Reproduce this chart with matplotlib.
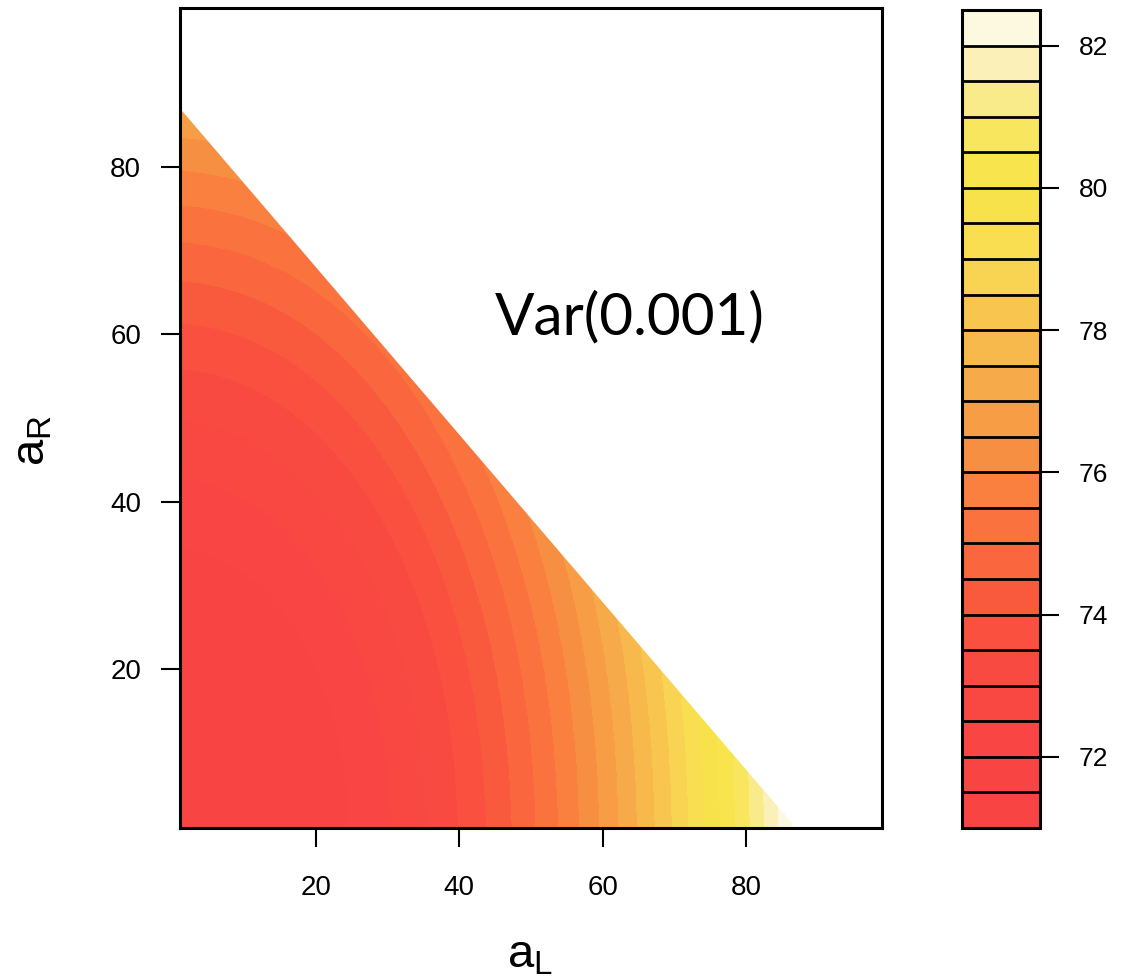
import matplotlib.pyplot as plt
import numpy as np
from matplotlib.colors import ListedColormap, BoundaryNorm
from matplotlib.patches import Polygon

plt.rcParams['font.family'] = ['Liberation Sans', 'DejaVu Sans']

a_L = [0, 10, 20, 30, 40, 50, 60, 70, 80, 90, 100]
a_R = [0, 10, 20, 30, 40, 50, 60, 70, 80, 90, 100]

# estimated surface values, one row per a_R value
var_surface = [
    [71.00, 71.15, 71.61, 72.38, 73.45, 74.83, 76.51, 78.50, 80.79, 83.39, 86.30],
    [71.08, 71.23, 71.69, 72.46, 73.53, 74.91, 76.59, 78.58, 80.87, 83.47, 86.38],
    [71.31, 71.46, 71.92, 72.69, 73.76, 75.14, 76.82, 78.81, 81.10, 83.70, 86.61],
    [71.70, 71.85, 72.31, 73.08, 74.15, 75.53, 77.21, 79.20, 81.49, 84.09, 87.00],
    [72.25, 72.40, 72.86, 73.63, 74.70, 76.08, 77.76, 79.75, 82.04, 84.64, 87.55],
    [72.95, 73.10, 73.56, 74.33, 75.40, 76.78, 78.46, 80.45, 82.74, 85.34, 88.25],
    [73.81, 73.96, 74.42, 75.19, 76.26, 77.64, 79.32, 81.31, 83.60, 86.20, 89.11],
    [74.82, 74.97, 75.43, 76.20, 77.27, 78.65, 80.33, 82.32, 84.61, 87.21, 90.12],
    [75.99, 76.14, 76.60, 77.37, 78.44, 79.82, 81.50, 83.49, 85.78, 88.38, 91.29],
    [77.32, 77.47, 77.93, 78.70, 79.77, 81.15, 82.83, 84.82, 87.11, 89.71, 92.62],
    [78.80, 78.95, 79.41, 80.18, 81.25, 82.63, 84.31, 86.30, 88.59, 91.19, 94.10],
]

# only a_L + a_R up to this sum is defined
feasible_sum = 88

levels = np.arange(71, 82.75, 0.5)
band_colors = ['#F94444', '#F94444', '#F94543', '#F94742', '#F94A41', '#F9503F',
               '#F95A3E', '#FA663D', '#FA723D', '#FA803F', '#F78F43', '#F79D46',
               '#F7AA49', '#F7B84C', '#F8C54F', '#F8D452', '#F8DE50', '#F8E24C',
               '#F8E44C', '#F8E65E', '#F9EA8A', '#FBF0B8', '#FDF8E0']
xlim = (1, 99)
ylim = (1, 99)
xticks = [20, 40, 60, 80]
yticks = [20, 40, 60, 80]
cbar_ticks = [72, 74, 76, 78, 80, 82]

cmap = ListedColormap(band_colors)
cmap.set_over('white')
cmap.set_under(band_colors[0])
norm = BoundaryNorm(levels, cmap.N)

fig = plt.figure(figsize=(11.25, 9.8), dpi=100)
ax = fig.add_axes([0.16, 0.1551, 0.624, 0.8367])

half = (a_L[1] - a_L[0]) / 2
im = ax.imshow(var_surface, origin='lower', cmap=cmap, norm=norm,
               extent=[a_L[0] - half, a_L[-1] + half, a_R[0] - half, a_R[-1] + half],
               interpolation='bicubic', interpolation_stage='data', aspect='auto')
x0, y0 = xlim[0], ylim[0]
region = Polygon([(x0, y0), (x0, feasible_sum - x0), (feasible_sum - y0, y0)],
                 closed=True, facecolor='none', edgecolor='none', transform=ax.transData)
ax.add_patch(region)
im.set_clip_path(region)

ax.set_xlim(*xlim)
ax.set_ylim(*ylim)
ax.set_xticks(xticks)
ax.set_yticks(yticks)
ax.tick_params(direction='out', length=14, width=1.5, labelsize=20)
ax.tick_params(axis='x', pad=20)
ax.tick_params(axis='y', pad=14)
for s in ax.spines.values():
    s.set_linewidth(2.2)

ax.text(45, 62, 'Var(0.001)', fontsize=42, family=['Lato', 'DejaVu Sans'],
        ha='left', va='center')

fig.text(530 / 1125, 1 - 955 / 980, r'$\mathregular{a_L}$', fontsize=34, ha='center', va='center')
fig.text(32 / 1125, 1 - 440 / 980, r'$\mathregular{a_R}$', fontsize=34, rotation=90,
         ha='center', va='center')

# colour key
cax = fig.add_axes([962 / 1125, 0.1551, 78 / 1125, 0.8347])
cb = fig.colorbar(plt.cm.ScalarMappable(norm=norm, cmap=cmap), cax=cax,
                  boundaries=levels, drawedges=True)
cb.set_ticks(cbar_ticks)
cb.minorticks_off()
cb.outline.set_linewidth(2.2)
cb.dividers.set_color('black')
cb.dividers.set_linewidth(2)
cax.tick_params(direction='out', length=14, width=1.5, labelsize=19, pad=14)

fig.savefig('out.png', dpi=100)
